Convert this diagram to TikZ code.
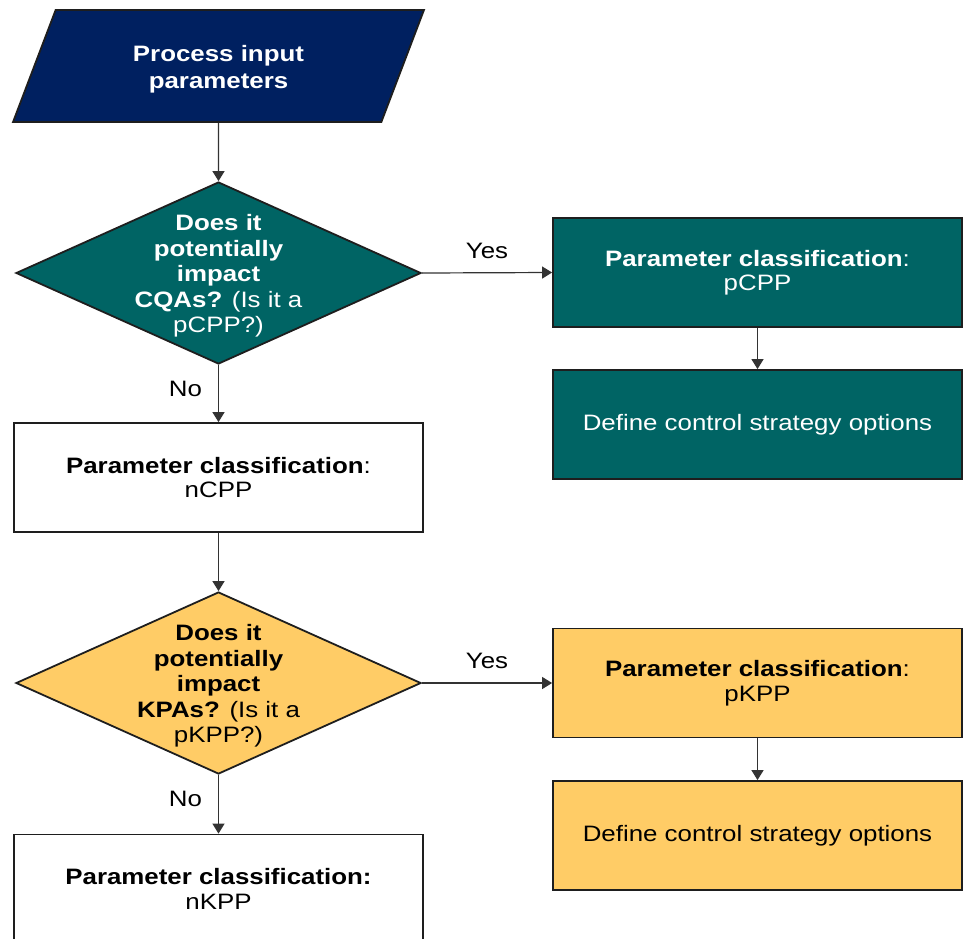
\documentclass[tikz,border=0pt]{standalone}
\usepackage{fontspec}
\setmainfont{Liberation Sans}[FakeStretch=1.16]
\usetikzlibrary{shapes.geometric,arrows.meta}
\definecolor{navyfill}{RGB}{0,32,96}
\definecolor{tealfill}{RGB}{0,100,100}
\definecolor{yellowfill}{RGB}{255,204,102}
\definecolor{edgecol}{RGB}{30,30,30}
\tikzset{
  txt/.style={font=\fontsize{22.3}{24.5}\selectfont, align=center},
  boxstyle/.style={draw=edgecol, line width=1.8pt, rectangle, minimum width=409pt, minimum height=109pt, inner sep=0pt, txt},
  tealbox/.style={boxstyle, fill=tealfill, text=white},
  yellowbox/.style={boxstyle, fill=yellowfill, text=black},
  whitebox/.style={boxstyle, fill=white, text=black},
  decision/.style={draw=edgecol, line width=1.8pt, diamond, minimum width=405pt, minimum height=182pt, inner sep=0pt},
  inputbox/.style={draw=edgecol, line width=1.8pt, trapezium, trapezium left angle=73.6, trapezium right angle=106.4, trapezium stretches=true, minimum width=411pt, minimum height=112pt, inner sep=0pt, fill=navyfill},
  arr/.style={draw=black!80, line width=1.2pt, -{Triangle[width=12pt,length=10pt]}},
  lbl/.style={font=\fontsize{22.3}{24.5}\selectfont, text=black}
}
\begin{document}
\begin{tikzpicture}[x=1pt,y=-1pt]
\useasboundingbox (0,0) rectangle (963,938);
\clip (0,0) rectangle (963,938);
\fill[white] (0,0) rectangle (963,938);

\node[inputbox] (inp) at (218.5,66) {\phantom{XX}};
\node[txt, text=white, font=\fontsize{22.3}{27}\selectfont, yshift=-3pt] (inpt) at (inp.center) {\textbf{Process input}\\\textbf{parameters}};

\node[decision, fill=tealfill] (d1) at (218.5,273) {};
\node[txt, text=white, font=\fontsize{22.3}{25.5}\selectfont, yshift=-3pt] (d1t) at (d1.center) {\textbf{Does it}\\\textbf{potentially}\\\textbf{impact}\\\textbf{CQAs?} (Is it a\\pCPP?)};

\node[tealbox] (pc) at (757.5,272.5) {\textbf{Parameter classification}:\\pCPP};
\node[tealbox] (def1) at (757.5,424.5) {Define control strategy options};

\node[whitebox] (nc) at (218.5,477.5) {\textbf{Parameter classification}:\\nCPP};

\node[decision, fill=yellowfill] (d2) at (218.5,683) {};
\node[txt, text=black, font=\fontsize{22.3}{25.5}\selectfont, yshift=-3pt] (d2t) at (d2.center) {\textbf{Does it}\\\textbf{potentially}\\\textbf{impact}\\\textbf{KPAs?} (Is it a\\pKPP?)};

\node[yellowbox] (pk) at (757.5,683) {\textbf{Parameter classification}:\\pKPP};
\node[yellowbox] (def2) at (757.5,835.5) {Define control strategy options};

\node[whitebox] (nk) at (218.5,889) {\textbf{Parameter classification:}\\nKPP};

\draw[arr] (inp.south) -- (d1.north);
\draw[arr] (d1.east) -- node[lbl, midway, yshift=22pt] {Yes} (pc.west);
\draw[arr] (d1.south) -- node[lbl, midway, xshift=-33pt, yshift=5pt] {No} (nc.north);
\draw[arr] (pc.south) -- (def1.north);
\draw[arr] (nc.south) -- (d2.north);
\draw[arr] (d2.east) -- node[lbl, midway, yshift=22pt] {Yes} (pk.west);
\draw[arr] (d2.south) -- node[lbl, midway, xshift=-33pt, yshift=5pt] {No} (nk.north);
\draw[arr] (pk.south) -- (def2.north);
\end{tikzpicture}
\end{document}
